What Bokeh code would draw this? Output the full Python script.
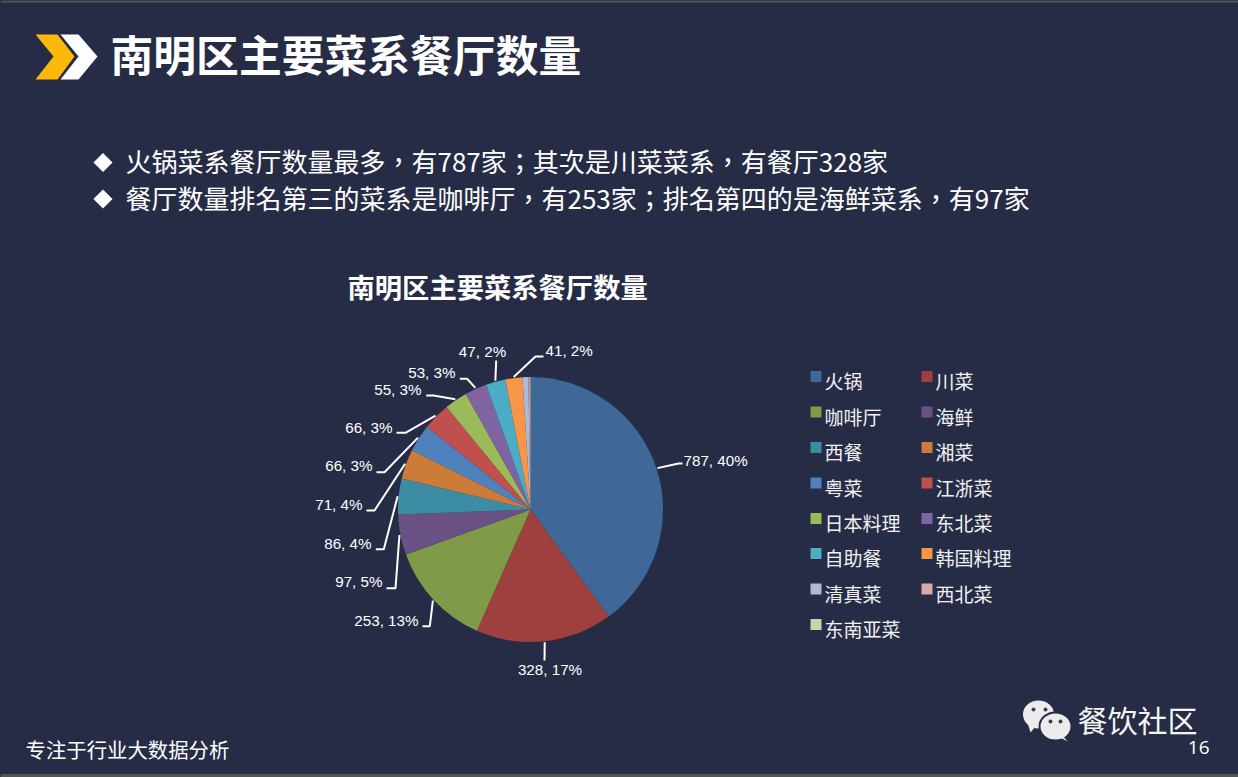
import math
from bokeh.plotting import figure
from bokeh.models import Range1d, ColumnDataSource
from bokeh.core.properties import value
from bokeh.embed import file_html
from bokeh.resources import INLINE

# ---- data ----
categories = ["火锅", "川菜", "咖啡厅", "海鲜", "西餐", "湘菜", "粤菜", "江浙菜",
              "日本料理", "东北菜", "自助餐", "韩国料理", "清真菜", "西北菜", "东南亚菜"]
counts = [787, 328, 253, 97, 86, 71, 66, 66, 55, 53, 47, 41, 14, 3, 2]
percent_labels = ["40%", "17%", "13%", "5%", "4%", "4%", "3%", "3%", "3%", "3%", "2%", "2%"]
colors = ["#3f6797", "#9e413e", "#7f9a48", "#695185", "#3c8da3", "#cc7b38", "#4f81bd", "#c0504d",
          "#9bbb59", "#8064a2", "#4bacc6", "#f79646", "#aabad7", "#d9aaa9", "#c6d6ac"]
main_title = "南明区主要菜系餐厅数量"
bullets = ["火锅菜系餐厅数量最多，有787家；其次是川菜菜系，有餐厅328家",
           "餐厅数量排名第三的菜系是咖啡厅，有253家；排名第四的是海鲜菜系，有97家"]
footer = "专注于行业大数据分析"
brand = "餐饮社区"
page_no = "16"

# ---- layout (reference pixels) ----
BG = "#272c46"
H = 777
W = 1238
cx, cy, R = 530, 509, 132.5
elbows = [(678, 463), (544, 660), (429.3, 625.7), (395, 587.7), (383.3, 548.7), (374, 510),
          (384, 471.7), (405, 432.3), (433, 395), (466.7, 378.3), (495.7, 360), (535, 356)]
ends = [(682, 463), (544, 660), (422, 625.7), (386, 587.7), (375.3, 548.7), (366, 510),
        (376, 471.7), (396, 432.3), (425.7, 395), (459.3, 378.3), (495.7, 360), (543, 356)]
label_pos = [(683, 460, "left"), (549.5, 669, "center"), (418, 620, "right"), (382, 581, "right"),
             (371, 543, "right"), (362, 504, "right"), (372, 465, "right"), (392, 427, "right"),
             (421, 389, "right"), (455, 372, "right"), (482, 350.5, "center"), (545, 350, "left")]
legend_cols = [810, 921]
legend_rows = [376, 411.5, 447, 482.5, 518, 553, 588.5, 624]


def Y(py):
    return H - py


p = figure(width=W, height=H, output_backend="svg", toolbar_location=None,
           x_range=Range1d(0, W), y_range=Range1d(0, H), min_border=0)
p.axis.visible = False
p.grid.visible = False
p.outline_line_color = None
p.background_fill_color = BG
p.border_fill_color = BG

# frame strips
p.quad(left=[0, 0], right=[W, W], top=[Y(0), Y(773.5)], bottom=[Y(2), Y(777)], color="#555555", line_width=0)


def txt(x, y, s, size, align="left", bold=False, font="Noto Sans CJK SC", color="white"):
    p.text([x], [Y(y)], text=[s], text_font=value(font), text_font_size=f"{size}px",
           text_color=color, text_align=align, text_baseline="middle",
           text_font_style="bold" if bold else "normal")


# header chevrons
p.patch([35, 57, 74, 57, 35, 53], [Y(v) for v in (34, 34, 56, 79, 79, 56)], color="#fdb90a", line_width=0)
p.patch([60, 78, 97, 78, 60, 78], [Y(v) for v in (34, 34, 56, 79, 79, 56)], color="white", line_width=0)
txt(110, 52, main_title, 42.8, bold=True)

# bullets
p.scatter([102.5, 102.5], [Y(162), Y(198.5)], marker="square", angle=math.pi / 4, size=13.5, color="white", line_width=0)
txt(125, 160, bullets[0], 26, font="Noto Sans CJK TC")
txt(125, 197, bullets[1], 26, font="Noto Sans CJK TC")

# chart title
txt(347, 285, main_title, 27.3, bold=True)

# pie
total = sum(counts)
cum = [0]
for c in counts:
    cum.append(cum[-1] + c)
starts = [math.pi / 2 - 2 * math.pi * a / total for a in cum[:-1]]
stops = [math.pi / 2 - 2 * math.pi * a / total for a in cum[1:]]
src = ColumnDataSource(dict(s=starts, e=stops, c=colors))
p.wedge(x=cx, y=Y(cy), radius=R, start_angle="s", end_angle="e", direction="clock",
        fill_color="c", line_color=None, source=src)

# leaders and labels
for i, pct in enumerate(percent_labels):
    mid = (starts[i] + stops[i]) / 2
    sx = cx + (R + 1) * math.cos(mid)
    sy = cy - (R + 1) * math.sin(mid)
    ex, ey = elbows[i]
    fx, fy = ends[i]
    p.line([sx, ex, fx], [Y(sy), Y(ey), Y(fy)], line_color="white", line_width=2)
    lx, ly, al = label_pos[i]
    txt(lx, ly, f"{counts[i]}, {pct}", 15.2, align=al, font="Liberation Sans")

# legend
for i, name in enumerate(categories):
    col, row = i % 2, i // 2
    x, y = legend_cols[col], legend_rows[row]
    p.rect([x + 5.5], [Y(y)], width=11, height=11, color=colors[i], line_width=0)
    txt(x + 14, y + 4, name, 19, color="#f2f2f2")

# WeChat-style icon
ICON = "#ececec"
p.ellipse([1038], [Y(714)], width=31, height=28, color=ICON, line_width=0)
p.patch([1027, 1030, 1035], [Y(v) for v in (722, 732, 726)], color=ICON, line_width=0)
p.ellipse([1055], [Y(726)], width=32, height=28, color=ICON, line_color=BG, line_width=2)
p.patch([1062, 1067, 1060], [Y(v) for v in (735, 741, 737)], color=ICON, line_width=0)
p.ellipse([1033, 1045, 1050, 1060], [Y(709), Y(709), Y(721), Y(721)], width=4, height=4, color="#3a3f52", line_width=0)

txt(1077, 718, brand, 30, color="#f5f5f5")
txt(1209, 747, page_no, 19, align="right", font="Open Sans")
txt(25, 748, footer, 20.4)

html = file_html(p, INLINE)
html = html.replace("</head>", "<style>html,body{margin:0 !important;overflow:hidden;background:" + BG + "}</style></head>", 1)
open("out.html", "w").write(html)
